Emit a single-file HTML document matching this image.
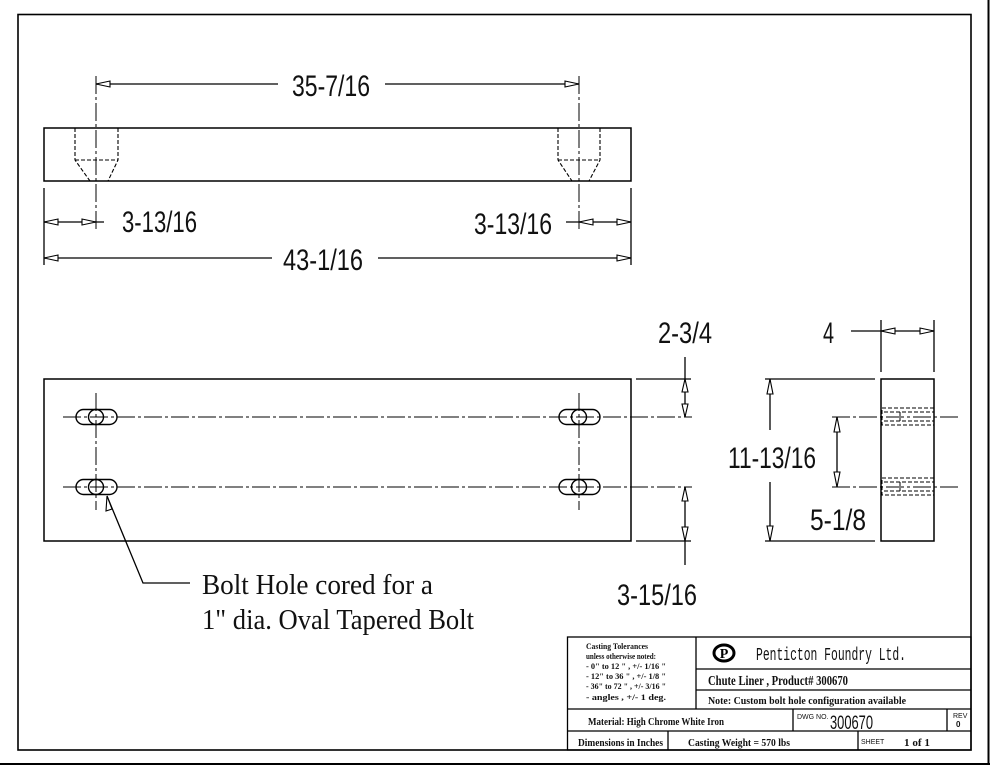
<!DOCTYPE html>
<html><head><meta charset="utf-8"><style>
html,body{margin:0;padding:0;background:#fff;}
svg{display:block;}
.d{font-family:"Liberation Sans",sans-serif;font-size:30px;fill:#111;}
.n{font-family:"Liberation Serif",serif;font-size:29px;fill:#111;}
.t{font-family:"Liberation Serif",serif;font-weight:bold;fill:#111;}
</style></head><body>
<svg width="990" height="765" viewBox="0 0 990 765" xmlns="http://www.w3.org/2000/svg">
<g fill="none" stroke="#000" stroke-width="1.3">
<rect x="18" y="14.5" width="953" height="735.5" stroke-width="1.6"/>
<line x1="0" y1="764" x2="990" y2="764" stroke-width="2"/>
<line x1="988.5" y1="0" x2="988.5" y2="765" stroke-width="2"/>

<rect x="44" y="128" width="587" height="53" stroke-width="1.5"/>
<g stroke-dasharray="4,2" stroke-width="1.1">
<polyline points="75,128 75,160 90,181"/><polyline points="118,128 118,160 108,181"/>
<line x1="75" y1="160" x2="118" y2="160"/>
<polyline points="558,128 558,160 572,181"/><polyline points="600,128 600,160 589,181"/>
<line x1="558" y1="160" x2="600" y2="160"/>
</g>
<g stroke-dasharray="18,3,3,3" stroke-width="1">
<line x1="96" y1="76" x2="96" y2="232"/><line x1="579" y1="76" x2="579" y2="232"/>
</g>
<line x1="44" y1="188" x2="44" y2="265"/><line x1="631" y1="188" x2="631" y2="265"/>
<line x1="96" y1="84" x2="278" y2="84"/><line x1="385" y1="84" x2="579" y2="84"/>
<line x1="44" y1="222" x2="104" y2="222"/>
<line x1="566" y1="222" x2="631" y2="222"/>
<line x1="44" y1="258" x2="272" y2="258"/><line x1="378" y1="258" x2="631" y2="258"/>

<rect x="44" y="379" width="587" height="162" stroke-width="1.5"/>
<g stroke-dasharray="18,3,3,3" stroke-width="1">
<line x1="63" y1="417" x2="692" y2="417"/><line x1="63" y1="487" x2="692" y2="487"/>
<line x1="96" y1="393" x2="96" y2="510"/><line x1="579" y1="393" x2="579" y2="510"/>
</g>
<g stroke-width="1.4">
<rect x="76" y="409.5" width="41" height="15" rx="7.5"/><circle cx="96" cy="417" r="7.5"/>
<rect x="76" y="479.5" width="41" height="15" rx="7.5"/><circle cx="96" cy="487" r="7.5"/>
<rect x="559" y="409.5" width="41" height="15" rx="7.5"/><circle cx="579" cy="417" r="7.5"/>
<rect x="559" y="479.5" width="41" height="15" rx="7.5"/><circle cx="579" cy="487" r="7.5"/>
</g>
<line x1="636" y1="379" x2="691" y2="379"/>
<line x1="636" y1="541" x2="691" y2="541"/>
<line x1="685" y1="357" x2="685" y2="417"/>
<line x1="685" y1="487" x2="685" y2="565"/>
<polyline points="107,496 143,583 190,583"/>

<rect x="881" y="379" width="53" height="162" stroke-width="1.5"/>
<line x1="881" y1="320" x2="881" y2="372"/><line x1="934" y1="320" x2="934" y2="372"/>
<line x1="851" y1="331" x2="934" y2="331"/>
<line x1="765" y1="379" x2="875" y2="379"/><line x1="765" y1="541" x2="875" y2="541"/>
<line x1="770" y1="379" x2="770" y2="430"/><line x1="770" y1="482" x2="770" y2="541"/>
<line x1="837" y1="417" x2="837" y2="487"/>
<g stroke-dasharray="18,3,3,3" stroke-width="1">
<line x1="832" y1="417" x2="960" y2="417"/><line x1="832" y1="487" x2="960" y2="487"/>
</g>
<g stroke-dasharray="4,2" stroke-width="1">
<rect x="882" y="408" width="52" height="17"/><line x1="884" y1="412" x2="934" y2="412"/><line x1="884" y1="421" x2="934" y2="421"/><line x1="900" y1="412" x2="900" y2="421"/>
<rect x="882" y="478" width="52" height="17"/><line x1="884" y1="482" x2="934" y2="482"/><line x1="884" y1="491" x2="934" y2="491"/><line x1="900" y1="482" x2="900" y2="491"/>
</g>
</g>

<g fill="#fff" stroke="#000" stroke-width="1.1">
<polygon points="96,84 110,81 110,87"/><polygon points="579,84 565,81 565,87"/>
<polygon points="44,222 58,219 58,225"/><polygon points="96,222 82,219 82,225"/>
<polygon points="579,222 593,219 593,225"/><polygon points="631,222 617,219 617,225"/>
<polygon points="44,258 58,255 58,261"/><polygon points="631,258 617,255 617,261"/>
<polygon points="685,379 682,392 688,392"/><polygon points="685,417 682,404 688,404"/>
<polygon points="685,487 682,501 688,501"/><polygon points="685,541 682,527 688,527"/>
<polygon points="881,331 895,328 895,334"/><polygon points="934,331 920,328 920,334"/>
<polygon points="770,379 767,394 773,394"/><polygon points="770,541 767,526 773,526"/>
<polygon points="837,417 834,432 840,432"/><polygon points="837,487 834,472 840,472"/>
<polygon points="107,496 106,511 112,509"/>
</g>

<text class="d" x="292" y="96" textLength="78" lengthAdjust="spacingAndGlyphs">35-7/16</text>
<text class="d" x="122" y="232" textLength="75" lengthAdjust="spacingAndGlyphs">3-13/16</text>
<text class="d" x="474" y="234" textLength="78" lengthAdjust="spacingAndGlyphs">3-13/16</text>
<text class="d" x="283" y="270" textLength="80" lengthAdjust="spacingAndGlyphs">43-1/16</text>
<text class="d" x="658" y="343" textLength="54" lengthAdjust="spacingAndGlyphs">2-3/4</text>
<text class="d" x="617" y="605" textLength="80" lengthAdjust="spacingAndGlyphs">3-15/16</text>
<text class="d" x="823" y="343" textLength="11" lengthAdjust="spacingAndGlyphs">4</text>
<text class="d" x="728" y="468" textLength="88" lengthAdjust="spacingAndGlyphs">11-13/16</text>
<text class="d" x="810" y="530" textLength="56" lengthAdjust="spacingAndGlyphs">5-1/8</text>
<text class="n" x="202" y="594" textLength="231" lengthAdjust="spacingAndGlyphs">Bolt Hole cored for a</text>
<text class="n" x="202" y="629" textLength="272" lengthAdjust="spacingAndGlyphs">1" dia. Oval Tapered Bolt</text>

<g fill="none" stroke="#000" stroke-width="1.3">
<rect x="567.5" y="637" width="403.5" height="113"/>
<line x1="696" y1="637" x2="696" y2="709"/>
<line x1="696" y1="669" x2="971" y2="669"/>
<line x1="696" y1="690" x2="971" y2="690"/>
<line x1="567" y1="709" x2="971" y2="709"/>
<line x1="567" y1="731" x2="971" y2="731"/>
<line x1="793" y1="709" x2="793" y2="731"/>
<line x1="947" y1="709" x2="947" y2="731"/>
<line x1="668" y1="731" x2="668" y2="750"/>
<line x1="858" y1="731" x2="858" y2="750"/>
</g>
<g class="t" font-size="8">
<text x="586" y="649" textLength="62" lengthAdjust="spacingAndGlyphs">Casting Tolerances</text>
<text x="586" y="659" textLength="70" lengthAdjust="spacingAndGlyphs">unless otherwise noted:</text>
<text x="586" y="669" textLength="80" lengthAdjust="spacingAndGlyphs">-   0" to 12 " , +/- 1/16 "</text>
<text x="586" y="679" textLength="80" lengthAdjust="spacingAndGlyphs">- 12" to 36 " , +/- 1/8 "</text>
<text x="586" y="689" textLength="80" lengthAdjust="spacingAndGlyphs">- 36" to 72 " , +/- 3/16 "</text>
<text x="586" y="700" textLength="80" lengthAdjust="spacingAndGlyphs">- angles      , +/- 1 deg.</text>
</g>
<g transform="translate(724,653)">
<ellipse cx="0" cy="0" rx="10" ry="8" fill="none" stroke="#000" stroke-width="3"/>
<text x="0" y="5" text-anchor="middle" font-family="Liberation Serif,serif" font-weight="bold" font-size="14" fill="#000">P</text>
</g>
<text x="756" y="660" font-family="Liberation Mono,monospace" font-size="18" fill="#111" textLength="150" lengthAdjust="spacingAndGlyphs">Penticton Foundry Ltd.</text>
<text class="t" x="708" y="685" font-size="14" textLength="140" lengthAdjust="spacingAndGlyphs">Chute Liner , Product# 300670</text>
<text class="t" x="708" y="704" font-size="11" textLength="198" lengthAdjust="spacingAndGlyphs">Note: Custom bolt hole configuration available</text>
<text class="t" x="588" y="725" font-size="11" textLength="136" lengthAdjust="spacingAndGlyphs">Material: High Chrome White Iron</text>
<text x="797" y="719" font-family="Liberation Sans,sans-serif" font-size="7" fill="#111">DWG NO.</text>
<text x="830" y="729" font-family="Liberation Sans,sans-serif" font-size="19" fill="#111" textLength="43" lengthAdjust="spacingAndGlyphs">300670</text>
<text x="953" y="718" font-family="Liberation Sans,sans-serif" font-size="7" fill="#111">REV</text>
<text x="956" y="727" font-family="Liberation Sans,sans-serif" font-size="8" fill="#111" font-weight="bold">0</text>
<text class="t" x="578" y="746" font-size="10" textLength="85" lengthAdjust="spacingAndGlyphs">Dimensions in Inches</text>
<text class="t" x="688" y="746" font-size="10" textLength="102" lengthAdjust="spacingAndGlyphs">Casting Weight = 570 lbs</text>
<text x="861" y="744" font-family="Liberation Sans,sans-serif" font-size="7" fill="#111">SHEET</text>
<text class="t" x="904" y="746" font-size="10" textLength="26" lengthAdjust="spacingAndGlyphs">1 of 1</text>
</svg>
</body></html>
